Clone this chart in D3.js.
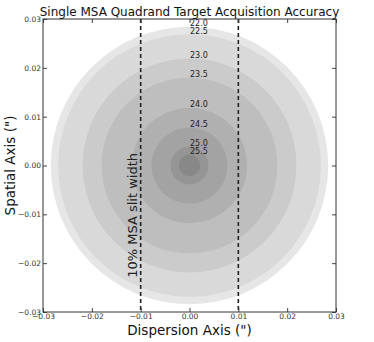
<!DOCTYPE html>
<html>
<head>
<meta charset="utf-8">
<script src="https://cdn.jsdelivr.net/npm/d3@7"></script>
<style>
  body { margin: 0; background: #fff; }
  svg { display: block; font-family: "DejaVu Sans", sans-serif; }
</style>
</head>
<body>
<svg id="chart" width="374" height="342"></svg>
<script>
// magnitude contours (outer to inner) and their radii in arcsec
const magLabels = ["22.0", "22.5", "23.0", "23.5", "24.0", "24.5", "25.0", "25.5"];
const radii = [0.0284, 0.0269, 0.0219, 0.0180, 0.0118, 0.0078, 0.0039, 0.0022];
const xTicks = [-0.03, -0.02, -0.01, 0.00, 0.01, 0.02, 0.03];
const yTicks = [-0.03, -0.02, -0.01, 0.00, 0.01, 0.02, 0.03];
const slitEdges = [-0.01, 0.01];

const margin = { top: 19, left: 43 };
const width = 293, height = 293;

const svg = d3.select("#chart");
const g = svg.append("g")
  .attr("transform", "translate(" + margin.left + "," + margin.top + ")");

const x = d3.scaleLinear().domain([-0.03, 0.03]).range([0, width]);
const y = d3.scaleLinear().domain([-0.03, 0.03]).range([height, 0]);

// grey shading, lighter outside
const shade = d3.scaleLinear().domain([0, magLabels.length - 1]).range([230, 136]);

g.append("defs").append("clipPath").attr("id", "clip")
  .append("rect").attr("width", width).attr("height", height);

const plot = g.append("g").attr("clip-path", "url(#clip)");

plot.selectAll("circle.ring")
  .data(radii)
  .enter()
  .append("circle")
  .attr("class", "ring")
  .attr("cx", x(0))
  .attr("cy", y(0))
  .attr("r", d => x(d) - x(0))
  .attr("fill", (d, i) => { const v = Math.round(shade(i)); return "rgb(" + v + "," + v + "," + v + ")"; });

// magnitude labels sit on top of each ring
g.selectAll("text.mag")
  .data(magLabels)
  .enter()
  .append("text")
  .attr("class", "mag")
  .attr("x", x(0) + 0.5)
  .attr("y", (d, i) => y(radii[i]) - 0.5)
  .attr("font-size", 8)
  .attr("fill", "#222")
  .text(d => d);

// slit edges
plot.selectAll("line.slit")
  .data(slitEdges)
  .enter()
  .append("line")
  .attr("class", "slit")
  .attr("x1", d => x(d)).attr("x2", d => x(d))
  .attr("y1", 0).attr("y2", height)
  .attr("stroke", "#222")
  .attr("stroke-width", 1.6)
  .attr("stroke-dasharray", "4,3");

g.append("text")
  .attr("transform", "translate(" + (x(-0.01) - 4) + "," + y(-0.023) + ") rotate(-90)")
  .attr("font-size", 13)
  .attr("fill", "#222")
  .text("10% MSA slit width");

// axes, ticks pointing inward
const fmt = d3.format(".2f");
function styleAxis(sel) {
  sel.select(".domain").remove();
  sel.selectAll(".tick line").attr("stroke", "#444");
  sel.selectAll(".tick text").attr("fill", "#333").attr("font-size", 7.5)
    .attr("font-family", "DejaVu Sans, sans-serif");
}

g.append("g")
  .attr("transform", "translate(0," + height + ")")
  .call(d3.axisBottom(x).tickValues(xTicks).tickFormat(fmt).tickSizeInner(-4).tickPadding(2))
  .call(styleAxis);
g.append("g")
  .call(d3.axisTop(x).tickValues(xTicks).tickFormat("").tickSizeInner(-4))
  .call(styleAxis);
g.append("g")
  .call(d3.axisLeft(y).tickValues(yTicks).tickFormat(fmt).tickSizeInner(-4).tickPadding(2))
  .call(styleAxis);
g.append("g")
  .attr("transform", "translate(" + width + ",0)")
  .call(d3.axisRight(y).tickValues(yTicks).tickFormat("").tickSizeInner(-4))
  .call(styleAxis);

g.append("rect")
  .attr("width", width).attr("height", height)
  .attr("fill", "none").attr("stroke", "#333").attr("stroke-width", 1);

// titles
svg.append("text")
  .attr("x", margin.left + width / 2).attr("y", 16)
  .attr("text-anchor", "middle").attr("font-size", 12).attr("fill", "#111")
  .text("Single MSA Quadrand Target Acquisition Accuracy");

svg.append("text")
  .attr("x", margin.left + width / 2).attr("y", 335)
  .attr("text-anchor", "middle").attr("font-size", 13.5).attr("fill", "#111")
  .text("Dispersion Axis (\")");

svg.append("text")
  .attr("transform", "translate(15," + (margin.top + height / 2) + ") rotate(-90)")
  .attr("text-anchor", "middle").attr("font-size", 13.5).attr("fill", "#111")
  .text("Spatial Axis (\")");
</script>
</body>
</html>
